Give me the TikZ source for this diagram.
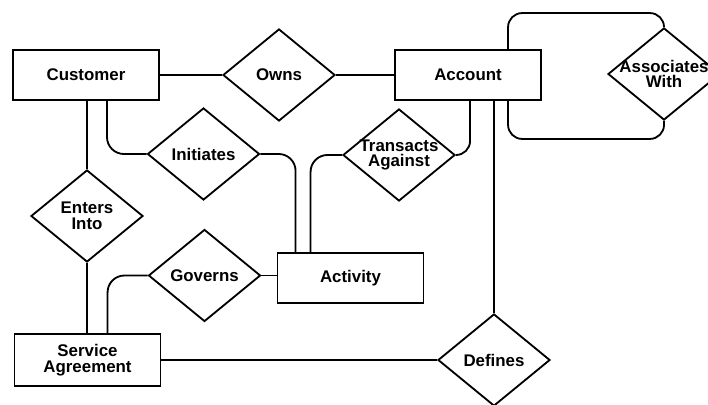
\documentclass[tikz,border=0pt]{standalone}
\usepackage{fontspec}
\setmainfont{Liberation Sans}
\usetikzlibrary{shapes.geometric, calc}

\begin{document}
\begin{tikzpicture}[x=0.025cm, y=-0.025cm,
	font=\bfseries\fontsize{12}{11}\selectfont,
	entity/.style={draw, rectangle, line width=1.3pt, minimum width=3.65cm, minimum height=1.25cm, align=center, inner sep=0pt},
	rel/.style={draw, diamond, line width=1.3pt, minimum width=2.8cm, minimum height=2.3cm, inner sep=0pt},
	every label/.style={align=center, inner sep=0pt},
	link/.style={line width=1.3pt, rounded corners=12pt}]
	\useasboundingbox (0,0) rectangle (708,405);
		% entities
		\node[entity] (cust) at ( 86,  75) {Customer};
		\node[entity] (acc)  at (468,  75) {Account};
		\node[entity] (act)  at (350.5, 278) {Activity};
		\node[entity, minimum height=1.3cm] (sa) at (87.5, 360) {Service\\Agreement};
		% relationships
		\node[rel, label=center:{Owns}]                    (owns) at (279,  75) {};
		\node[rel, label=center:{Associates\\With}]        (aw)   at (664,  74) {};
		\node[rel, label=center:{Initiates}]               (ini)  at (203.5, 154) {};
		\node[rel, label=center:{Transacts\\Against}]      (tra)  at (399, 155) {};
		\node[rel, label=center:{Enters\\Into}]            (ent)  at ( 87, 216) {};
		\node[rel, label=center:{Governs}]                 (gov)  at (204.5, 275.5) {};
		\node[rel, label=center:{Defines}]                 (def)  at (494, 360) {};
		% connectors
		\draw[link] (cust.east) -- (owns.west);
		\draw[link] (owns.east) -- (acc.west);
		\draw[link] (cust.south -| ent.north) -- (ent.north);
		\draw[link] (ent.south) -- (ent.south |- sa.north);
		\draw[link] ($(cust.south)+(21,0)$) |- (ini.west);
		\draw[link] (ini.east) -| ($(act.north west)+(19,0)$);
		\draw[link] (tra.west) -| ($(act.north west)+(34,0)$);
		\draw[link, rounded corners=10pt] ($(acc.south west)+(76,0)$) |- (tra.east);
		\draw[link] (acc.south -| def.north) -- (def.north);
		\draw[link, rounded corners=10pt] ($(acc.north west)+(114,0)$) |- ($(aw.north)+(0,-14)$) -- (aw.north);
		\draw[link, rounded corners=10pt] ($(acc.south west)+(114,0)$) |- ($(aw.south)+(0,18)$) -- (aw.south);
		\draw[link] (gov.east) -- (gov.east -| act.west);
		\draw[link] (gov.west) -| ($(sa.north west)+(94,0)$);
		\draw[link] (sa.east) -- (def.west);
\end{tikzpicture}
\end{document}
